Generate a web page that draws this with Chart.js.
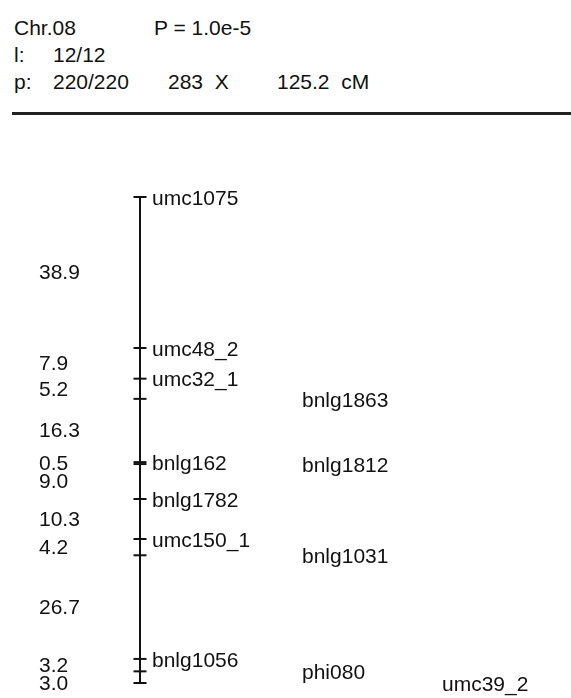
<!DOCTYPE html>
<html>
<head>
<meta charset="utf-8">
<script src="https://cdn.jsdelivr.net/npm/chart.js@4.4.1/dist/chart.umd.min.js"></script>
<style>
body { margin: 0; background: #fff; }
#wrap { position: relative; width: 571px; height: 698px; font-family: Arial, "Liberation Sans", sans-serif; font-size: 21px; color: #111; }
.t { position: absolute; white-space: pre; line-height: 21px; }
#rule { position: absolute; left: 12px; right: 0; top: 112px; height: 3px; background: #222; }
canvas { position: absolute; left: 0; top: 0; }
</style>
</head>
<body>
<div id="wrap">
  <div class="t" style="left:14px; top:17px;">Chr.08</div>
  <div class="t" style="left:154px; top:17px;">P = 1.0e-5</div>
  <div class="t" style="left:14px; top:44px;">l:</div>
  <div class="t" style="left:53px; top:44px;">12/12</div>
  <div class="t" style="left:14px; top:71px;">p:</div>
  <div class="t" style="left:53px; top:71px;">220/220</div>
  <div class="t" style="left:168px; top:71px;">283  X</div>
  <div class="t" style="left:277px; top:71px;">125.2  cM</div>
  <div id="rule"></div>
  <canvas id="myChart" width="571" height="698"></canvas>
</div>
<script>
// loci on chromosome 8, position in cM from the top
const markers = ['umc1075', 'umc48_2', 'umc32_1', 'bnlg1863', 'bnlg162', 'bnlg1812',
                 'bnlg1782', 'umc150_1', 'bnlg1031', 'bnlg1056', 'phi080', 'umc39_2'];
const positions = [0, 38.9, 46.8, 52.0, 68.3, 68.8, 77.8, 88.1, 92.3, 119.0, 122.2, 125.2];
// distances between neighbouring loci, as printed on the left
const intervals = ['38.9', '7.9', '5.2', '16.3', '0.5', '9.0', '10.3', '4.2', '26.7', '3.2', '3.0'];

const FONT = '21px Arial, "Liberation Sans", sans-serif';

const mapLabels = {
    id: 'mapLabels',
    afterDatasetsDraw(chart) {
        const ctx = chart.ctx;
        const x = chart.scales.x;
        const y = chart.scales.y;
        const axisX = x.getPixelForValue(0);
        ctx.save();
        ctx.font = FONT;
        ctx.fillStyle = '#111';
        ctx.textBaseline = 'middle';
        ctx.textAlign = 'left';

        // interval lengths, halfway between loci, pushed down if they would overlap
        let prev = -Infinity;
        intervals.forEach((txt, i) => {
            let py = (y.getPixelForValue(positions[i]) + y.getPixelForValue(positions[i + 1])) / 2 + 1;
            if (py < prev + 18) py = prev + 18;
            prev = py;
            ctx.fillText(txt, 39, py);
        });

        // locus names, moved to a further column when too close to the one above
        const colX = [axisX + 12, 302, 442];
        const last = colX.map(() => -Infinity);
        markers.forEach((name, i) => {
            const py = y.getPixelForValue(positions[i]);
            let c = 0;
            while (c < colX.length - 1 && py - last[c] < 26) c++;
            last[c] = py;
            ctx.fillText(name, colX[c], py + 2);
        });
        ctx.restore();
    }
};

const ctx = document.getElementById('myChart').getContext('2d');
const chart = new Chart(ctx, {
    type: 'scatter',
    data: {
        datasets: [{
            label: 'chromosome',
            data: [{ x: 0, y: positions[0] }, { x: 0, y: positions[positions.length - 1] }],
            showLine: true,
            borderColor: '#111',
            borderWidth: 2,
            pointRadius: 0,
            clip: false
        }, {
            label: 'loci',
            data: positions.map(p => ({ x: 0, y: p })),
            pointStyle: 'line',
            pointRadius: 6.5,
            borderColor: '#111',
            borderWidth: 2,
            clip: false
        }]
    },
    options: {
        responsive: false,
        animation: false,
        layout: { padding: { top: 197, bottom: 15, left: 140, right: 0 } },
        scales: {
            x: { type: 'linear', min: 0, max: 1, display: false },
            y: { type: 'linear', min: 0, max: positions[positions.length - 1], reverse: true, display: false }
        },
        plugins: {
            legend: { display: false },
            tooltip: { enabled: false }
        }
    },
    plugins: [mapLabels]
});
</script>
</body>
</html>
